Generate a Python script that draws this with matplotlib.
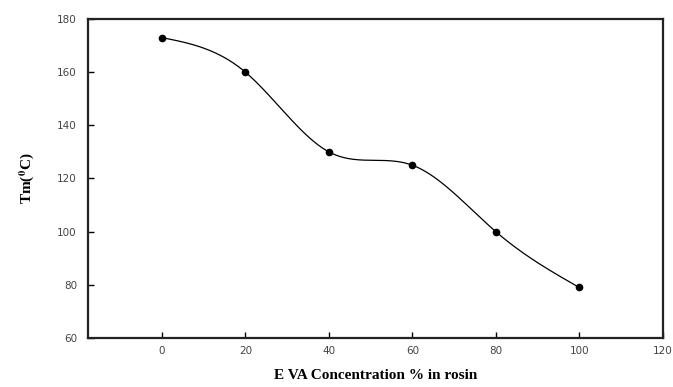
import numpy as np
import matplotlib
matplotlib.use('Agg')
import matplotlib.pyplot as plt

# EVA concentration (%) and melting temperature Tm (deg C)
eva_conc = [0, 20, 40, 60, 80, 100]
tm_values = [173, 160, 130, 125, 100, 79]

x_ticks = [0, 20, 40, 60, 80, 100, 120]
y_ticks = [60, 80, 100, 120, 140, 160, 180]


def natural_spline(x, y, n=300):
    # plain natural cubic spline, used only to draw the smooth connecting line
    x = np.asarray(x, float)
    y = np.asarray(y, float)
    m = len(x)
    h = np.diff(x)
    A = np.zeros((m, m))
    b = np.zeros(m)
    A[0, 0] = A[-1, -1] = 1
    for i in range(1, m - 1):
        A[i, i - 1] = h[i - 1]
        A[i, i] = 2 * (h[i - 1] + h[i])
        A[i, i + 1] = h[i]
        b[i] = 6 * ((y[i + 1] - y[i]) / h[i] - (y[i] - y[i - 1]) / h[i - 1])
    M = np.linalg.solve(A, b)
    xs = np.linspace(x[0], x[-1], n)
    idx = np.clip(np.searchsorted(x, xs) - 1, 0, m - 2)
    x0, x1 = x[idx], x[idx + 1]
    hh = x1 - x0
    ys = (M[idx] * (x1 - xs) ** 3 / (6 * hh) + M[idx + 1] * (xs - x0) ** 3 / (6 * hh)
          + (y[idx] / hh - M[idx] * hh / 6) * (x1 - xs)
          + (y[idx + 1] / hh - M[idx + 1] * hh / 6) * (xs - x0))
    return xs, ys


plt.rcParams['mathtext.fontset'] = 'stix'

fig = plt.figure(figsize=(6.73, 3.87), dpi=100)
ax = fig.add_axes([0.1308, 0.1266, 0.854, 0.8244])

xs, ys = natural_spline(eva_conc, tm_values)
ax.plot(xs, ys, color='black', linewidth=0.9)
ax.plot(eva_conc, tm_values, 'o', color='black', markersize=4.5)

ax.set_xlim(-17.7, 120)
ax.set_ylim(60, 180)
ax.set_xticks(x_ticks)
ax.set_yticks(y_ticks)
ax.tick_params(direction='in', length=4, width=1, labelsize=7.5,
               labelcolor='#444444', top=False, right=False)
ax.tick_params(axis='x', pad=6)
ax.tick_params(axis='y', pad=8)

for side in ['left', 'bottom', 'top', 'right']:
    ax.spines[side].set_linewidth(1.6)
    ax.spines[side].set_color('#222222')

ax.set_xlabel('E VA Concentration % in rosin', family='Liberation Serif',
              fontweight='bold', fontsize=11, labelpad=9)
ax.set_ylabel(r'Tm($^{\mathbf{0}}$C)', family='Liberation Serif',
              fontweight='bold', fontsize=11, labelpad=15)

fig.savefig('out.png', dpi=100)
